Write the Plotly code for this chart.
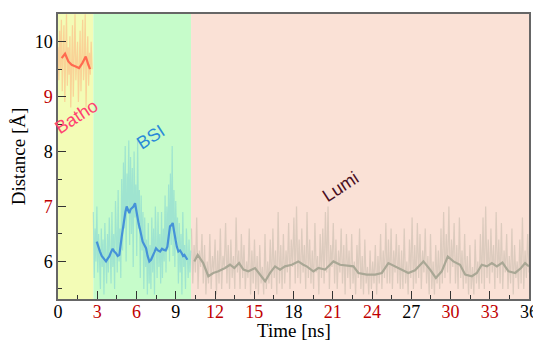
import numpy as np
import plotly.graph_objects as go

# ---------------- data ----------------
# smoothed running averages
batho_t = [0.28, 0.54, 0.79, 1.04, 1.35, 1.61, 1.86, 2.12, 2.32, 2.45]
batho_s = [9.70, 9.78, 9.64, 9.58, 9.55, 9.52, 9.61, 9.73, 9.58, 9.50]

bsi_t = [2.96, 3.08, 3.21, 3.34, 3.47, 3.57, 3.67, 3.8, 3.92, 4.05, 4.18, 4.3, 4.43,
         4.56, 4.69, 4.87, 4.96, 5.05, 5.15, 5.25, 5.35, 5.45, 5.55, 5.66, 5.77,
         5.89, 5.97, 6.06, 6.17, 6.27, 6.37, 6.47, 6.6, 6.73, 6.85, 6.98, 7.11,
         7.24, 7.37, 7.49, 7.64, 7.8, 7.95, 8.1, 8.23, 8.36, 8.46, 8.56, 8.67,
         8.77, 8.87, 8.97, 9.08, 9.2, 9.33, 9.46, 9.56, 9.66, 9.78, 9.89]
bsi_s = [6.36, 6.25, 6.18, 6.1, 6.06, 6.02, 6.0, 6.05, 6.09, 6.17, 6.23, 6.18, 6.15,
         6.1, 6.12, 6.45, 6.62, 6.79, 6.9, 7.0, 6.93, 6.88, 6.95, 6.97, 7.0,
         7.06, 6.95, 6.76, 6.68, 6.58, 6.45, 6.36, 6.3, 6.24, 6.1, 6.0, 6.03,
         6.09, 6.17, 6.24, 6.2, 6.18, 6.23, 6.21, 6.2, 6.27, 6.45, 6.64, 6.66,
         6.7, 6.55, 6.39, 6.27, 6.18, 6.2, 6.15, 6.1, 6.12, 6.06, 6.03]

lumi_t = [10.42, 10.68, 11.1, 11.49, 11.87, 12.26, 12.77, 13.15, 13.48, 13.84, 14.17,
          14.55, 15.06, 15.44, 15.83, 16.21, 16.59, 16.97, 17.35, 17.87, 18.37, 18.75,
          19.01, 19.52, 19.9, 20.41, 21.05, 21.56, 22.07, 22.58, 22.96, 23.6, 24.24,
          24.75, 25.25, 25.76, 26.28, 26.78, 27.29, 27.93, 28.44, 28.88, 29.33, 29.79,
          30.22, 30.73, 31.12, 31.63, 32.01, 32.39, 32.78, 33.16, 33.54, 33.97, 34.43,
          34.94, 35.39, 35.7, 36.0]
lumi_s = [6.0, 6.12, 5.97, 5.73, 5.79, 5.82, 5.88, 5.94, 5.88, 5.97, 5.85,
          5.82, 5.88, 5.76, 5.64, 5.79, 5.91, 5.85, 5.91, 5.94, 6.0, 5.94,
          5.91, 5.82, 5.88, 5.85, 6.0, 5.94, 5.92, 5.91, 5.79, 5.76, 5.76,
          5.79, 5.97, 5.91, 5.85, 5.79, 5.84, 6.0, 5.85, 5.70, 5.82, 6.09,
          6.0, 5.94, 5.76, 5.73, 5.79, 5.94, 5.91, 5.97, 5.91, 5.98, 5.82,
          5.79, 5.88, 5.97, 5.91]

# raw (noisy) distance traces
batho_raw = [9.9, 9.3, 10.2, 9.5, 10.4, 9.1, 9.8, 10.3, 8.9, 9.7, 10.5, 9.2, 9.9, 9.4,
             10.1, 8.8, 9.6, 10.3, 9.0, 9.8, 10.5, 9.3, 9.7, 10.0, 8.9, 9.5, 10.2, 9.1,
             9.9, 10.4, 9.3, 9.6, 10.5, 8.8, 9.7, 10.1, 9.2, 9.8, 9.4, 10.0, 9.5]
batho_range = [0.0, 2.6]

bsi_raw = [6.9, 5.7, 6.6, 6.0, 7.0, 5.8, 6.5, 6.1,
           5.5, 6.6, 5.9, 6.4, 5.4, 6.7, 6.0, 5.6, 6.5, 5.8, 6.8, 6.1,
           5.6, 6.9, 5.9, 6.5, 5.5, 7.1, 6.2, 5.8, 7.3, 6.0, 6.6, 5.7,
           7.5, 6.2, 7.8, 6.6, 8.1, 6.0, 7.6, 6.9, 8.2,
           6.3, 7.9, 6.5, 7.7, 5.9, 8.0, 6.8, 7.4, 6.1, 8.2, 6.6, 7.3,
           5.7, 7.2, 6.2, 6.9, 5.5, 6.8, 5.9, 6.4, 5.4, 6.7, 5.6, 6.3,
           5.5, 6.8, 5.8, 6.6, 5.4, 7.0, 6.1, 5.7, 6.9, 5.9, 6.5, 5.6,
           6.9, 5.7, 6.6, 6.0, 7.2, 5.8, 7.0, 6.2, 7.4,
           6.0, 7.6, 6.3, 8.1, 6.1, 7.3, 5.9, 7.1, 6.4, 6.8,
           5.6, 6.7, 5.8, 6.5, 5.4, 6.9, 5.9, 6.3, 5.5, 6.6, 6.0, 5.7, 6.4, 5.8, 6.2]
bsi_range = [2.7, 10.15]

lumi_raw = [6.6, 5.6, 6.3, 5.8, 6.8, 5.5, 6.2, 5.9, 6.5, 5.6,
            6.3, 5.4, 6.0, 5.6, 6.5, 5.5, 6.1, 5.8, 6.4, 5.4,
            6.2, 5.6, 6.6, 5.5, 6.1, 5.9, 6.7, 5.6, 6.3, 5.5,
            6.4, 5.7, 6.1, 5.5, 6.8, 5.8, 6.2, 5.5, 6.5, 5.7,
            6.3, 5.5, 6.0, 5.7, 6.6, 5.4, 6.2, 5.6, 6.4, 5.5,
            6.1, 5.4, 6.3, 5.6, 5.9, 5.4, 6.5, 5.5, 6.0, 5.6,
            6.4, 5.5, 6.6, 5.7, 6.2, 5.4, 6.9, 5.6, 6.3, 5.5,
            6.5, 5.6, 6.2, 5.8, 6.7, 5.5, 6.4, 5.9, 6.8, 5.6,
            7.0, 5.7, 6.4, 5.6, 6.6, 5.8, 6.3, 5.5, 6.9, 5.7,
            6.4, 5.6, 6.2, 5.5, 6.7, 5.8, 6.1, 5.4, 6.5, 5.7,
            6.6, 5.6, 6.9, 5.8, 7.0, 5.5, 6.3, 5.9, 6.7, 5.6,
            6.4, 5.5, 6.2, 5.8, 6.6, 5.6, 6.3, 5.4, 6.5, 5.7,
            6.2, 5.5, 6.5, 5.6, 6.0, 5.4, 6.3, 5.7, 6.6, 5.5,
            6.1, 5.4, 6.4, 5.6, 5.9, 5.4, 6.2, 5.5, 6.0, 5.6,
            6.3, 5.4, 6.1, 5.6, 6.5, 5.5, 6.2, 5.7, 6.7, 5.6,
            6.4, 5.6, 6.6, 5.5, 6.2, 5.8, 6.5, 5.6, 6.3, 5.5,
            6.2, 5.5, 6.6, 5.6, 6.0, 5.4, 6.4, 5.7, 6.8, 5.5,
            6.3, 5.6, 6.7, 5.7, 6.5, 5.5, 6.2, 5.8, 6.6, 5.6,
            6.1, 5.4, 6.5, 5.5, 6.0, 5.4, 6.3, 5.6, 6.2, 5.5,
            6.6, 5.6, 6.9, 5.7, 6.5, 5.8, 7.0, 5.6, 6.4, 5.9,
            6.7, 5.6, 6.3, 5.5, 6.8, 5.7, 6.2, 5.5, 6.5, 5.6,
            6.1, 5.4, 6.3, 5.5, 5.9, 5.4, 6.4, 5.6, 6.0, 5.5,
            6.5, 5.6, 6.8, 5.5, 7.0, 5.7, 6.4, 5.6, 6.6, 5.8,
            6.3, 5.5, 6.9, 5.7, 6.4, 5.6, 6.7, 5.5, 6.2, 5.8,
            6.5, 5.5, 6.1, 5.6, 6.6, 5.4, 6.3, 5.7, 6.0, 5.5,
            6.4, 5.6, 6.8, 5.5, 6.2, 5.7, 6.5, 5.8]
lumi_range = [10.2, 36.0]

# state regions (ns)
regions = [("Batho", 0.0, 2.7), ("BSI", 2.7, 10.17), ("Lumi", 10.17, 36.0)]
region_colors = ["#f3fcb6", "#c6fcca", "#fae1d6"]

x_ticks = [0, 3, 6, 9, 12, 15, 18, 21, 24, 27, 30, 33, 36]
x_tick_red = [False, True, True, False, True, True, False, True, True, False, True, True, False]
y_ticks = [6, 7, 8, 9, 10]
y_tick_red = [False, True, False, True, False]

x_title = "Time [ns]"
y_title = "Distance [Å]"

RED = "#c00000"


def ticklabels(vals, reds):
    return [f'<span style="color:{RED}">{v}</span>' if r else str(v) for v, r in zip(vals, reds)]


fig = go.Figure()

for (name, x0, x1), c in zip(regions, region_colors):
    fig.add_shape(type="rect", xref="x", yref="paper", x0=x0, x1=x1, y0=0, y1=1,
                  fillcolor=c, line_width=0, layer="below")

# raw traces
fig.add_trace(go.Scatter(x=np.linspace(*batho_range, len(batho_raw)), y=batho_raw, mode="lines",
                         line=dict(color="rgba(255,170,120,0.5)", width=1.2), hoverinfo="skip"))
fig.add_trace(go.Scatter(x=np.linspace(*bsi_range, len(bsi_raw)), y=bsi_raw, mode="lines",
                         line=dict(color="rgba(110,200,215,0.45)", width=1.2), hoverinfo="skip"))
fig.add_trace(go.Scatter(x=np.linspace(*lumi_range, len(lumi_raw)), y=lumi_raw, mode="lines",
                         line=dict(color="rgba(190,182,165,0.5)", width=1.2), hoverinfo="skip"))

# smoothed traces
fig.add_trace(go.Scatter(x=batho_t, y=batho_s, mode="lines", line=dict(color="#ff6a50", width=2.2)))
fig.add_trace(go.Scatter(x=bsi_t, y=bsi_s, mode="lines", line=dict(color="#4592d8", width=2.2)))
fig.add_trace(go.Scatter(x=lumi_t, y=lumi_s, mode="lines", line=dict(color="#a9a795", width=2.2)))

# region labels
label_pos = [(1.38, 8.63, "#ff4270"), (7.1, 8.27, "#2a8ad8"), (21.56, 7.36, "#4a0f1f")]
for (name, _, _), (lx, ly, lc) in zip(regions, label_pos):
    fig.add_annotation(x=lx, y=ly, text=name, showarrow=False, textangle=-33,
                       font=dict(family="Liberation Sans", size=18, color=lc))

serif = "Liberation Serif"

# x-axis title as an annotation so it can sit just under the tick labels
fig.add_annotation(x=0.5, xref="paper", y=0, yref="paper", yanchor="middle",
                   yshift=-31, text=x_title, showarrow=False,
                   font=dict(family=serif, size=19, color="black"))

# the page body adds an 8px offset, so the figure is 8px smaller on each axis
fig.update_layout(
    width=533, height=332,
    margin=dict(l=50, r=12, t=6, b=41, autoexpand=False),
    paper_bgcolor="white", plot_bgcolor="white",
    showlegend=False,
    font=dict(family=serif, size=18, color="black"),
    xaxis=dict(range=[0, 36], tickmode="array", tickvals=x_ticks,
               ticktext=ticklabels(x_ticks, x_tick_red), automargin=False,
               ticks="inside", ticklen=8, tickwidth=1.3, tickcolor="#333",
               ticklabelstandoff=-4,
               minor=dict(ticks="inside", dtick=1.5, ticklen=4, tickcolor="#333", tickwidth=1.3),
               showgrid=False, zeroline=False, showline=True, linecolor="#666", linewidth=1.5,
               mirror=True, tickfont=dict(family=serif, size=18)),
    yaxis=dict(range=[5.316, 10.504], tickmode="array", tickvals=y_ticks,
               ticktext=ticklabels(y_ticks, y_tick_red), automargin=False,
               ticks="inside", ticklen=8, tickwidth=1.3, tickcolor="#333",
               minor=dict(ticks="inside", dtick=0.5, tick0=5.5, ticklen=4, tickcolor="#333", tickwidth=1.3),
               showgrid=False, zeroline=False, showline=True, linecolor="#666", linewidth=1.5,
               mirror=True, tickfont=dict(family=serif, size=18),
               title=dict(text=y_title, font=dict(family=serif, size=19), standoff=6)),
)

fig.write_html("out.html")
